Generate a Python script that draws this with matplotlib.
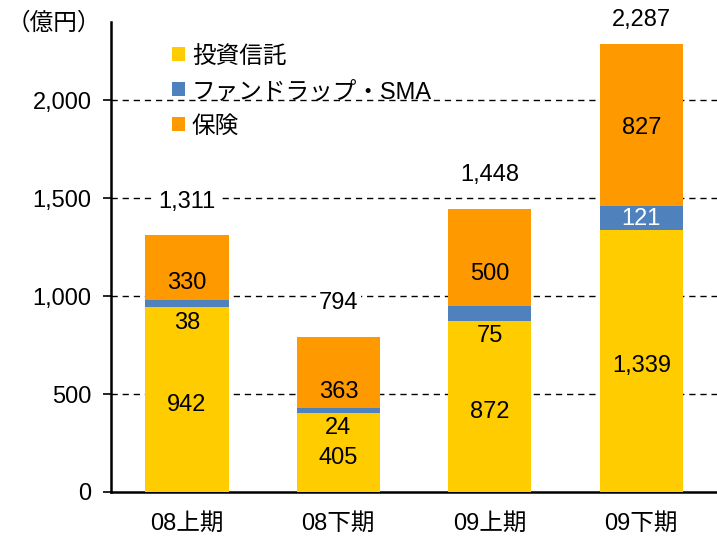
import matplotlib.pyplot as plt
import numpy as np

plt.rcParams['font.family'] = ['Liberation Sans', 'Noto Sans CJK JP', 'DejaVu Sans']

# ===== DATA =====
periods = ["08上期", "08下期", "09上期", "09下期"]
toushin = [942, 405, 872, 1339]        # 投資信託
wrap = [38, 24, 75, 121]               # ファンドラップ・SMA
hoken = [330, 363, 500, 827]           # 保険
totals = [1311, 794, 1448, 2287]
yticks = [0, 500, 1000, 1500, 2000]

C_YEL = "#FFCC00"
C_BLU = "#4F81BD"
C_ORA = "#FF9900"
FS = 17

# label nudges (points), as placed in the original chart
hoken_dy = [-9, -12, -10, 0]

fig = plt.figure(figsize=(7.17, 5.37), dpi=100)
ax = fig.add_axes([0.155, 0.084, 0.845, 0.875])

x = np.arange(len(periods))
w = 0.55
t = np.array(toushin)
b = np.array(wrap)
h = np.array(hoken)
ax.bar(x, t, w, color=C_YEL, label="投資信託", zorder=3)
ax.bar(x, b, w, bottom=t, color=C_BLU, label="ファンドラップ・SMA", zorder=3)
ax.bar(x, h, w, bottom=t + b, color=C_ORA, label="保険", zorder=3)


def lab(xx, yy, s, dy=0, **kw):
    ax.annotate(s, (xx, yy), xytext=(0, dy), textcoords="offset points",
                ha="center", fontsize=FS, zorder=4, annotation_clip=False, **kw)


for i in range(len(x)):
    lab(x[i], t[i] / 2, f"{t[i]:,}", -4, va="center")
    lab(x[i], t[i] + b[i] + h[i] / 2, f"{h[i]:,}", hoken_dy[i] - 2, va="center")
    if i == len(x) - 1:
        lab(x[i], t[i] + b[i] / 2, f"{b[i]:,}", -1, va="center", color="white")
    else:
        lab(x[i], t[i], f"{b[i]:,}", -3, va="top")
    ty = min(totals[i] + 170, 2410)
    lab(x[i], ty, f"{totals[i]:,}", 0, va="center",
        bbox=dict(facecolor="white", edgecolor="none", pad=2))

ax.set_xlim(-0.5, 3.5)
ax.set_ylim(0, 2400)
ax.set_yticks(yticks)
ax.set_yticklabels([f"{v:,}" for v in yticks], fontsize=FS)
ax.set_xticks(x)
ax.set_xticklabels(periods, fontsize=FS)
ax.tick_params(axis="y", length=6, width=1.2, direction="out", pad=8)
ax.tick_params(axis="x", length=0, pad=15)
for v in yticks[1:]:
    ax.axhline(v, color="black", ls=(0, (4.5, 3.5)), lw=1, zorder=1)
for s in ["top", "right"]:
    ax.spines[s].set_visible(False)
for s in ["left", "bottom"]:
    ax.spines[s].set_linewidth(1.8)

fig.text(0.075, 0.957, "（億円）", ha="center", va="center", fontsize=FS)

ax.legend(loc="upper left", bbox_to_anchor=(0.065, 0.995), frameon=False, fontsize=FS,
          handlelength=0.55, handleheight=0.55, handletextpad=0.3, labelspacing=0.55)

fig.savefig("out.png", dpi=100)
